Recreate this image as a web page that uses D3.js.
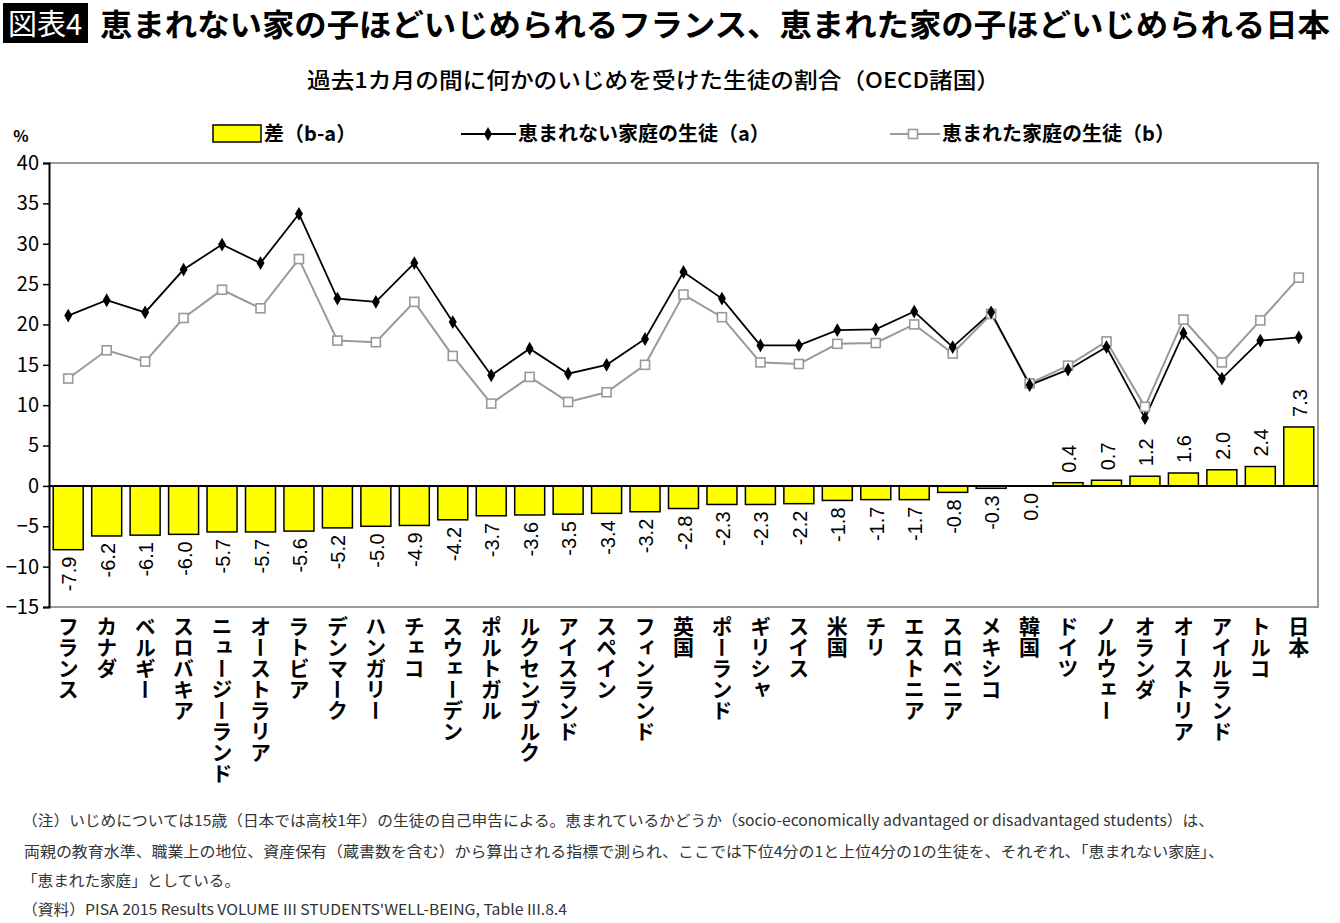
<!DOCTYPE html>
<html>
<head>
<meta charset="utf-8">
<script src="https://d3js.org/d3.v7.min.js"></script>
<style>
  body { margin: 0; background: #fff; }
  text { font-family: "Noto Sans CJK JP", "Noto Sans", sans-serif; }
</style>
</head>
<body>
<svg id="chart" width="1340" height="923"></svg>
<script>
// 国名
var countries = ["フランス","カナダ","ベルギー","スロバキア","ニュージーランド","オーストラリア","ラトビア",
  "デンマーク","ハンガリー","チェコ","スウェーデン","ポルトガル","ルクセンブルク","アイスランド","スペイン",
  "フィンランド","英国","ポーランド","ギリシャ","スイス","米国","チリ","エストニア","スロベニア","メキシコ",
  "韓国","ドイツ","ノルウェー","オランダ","オーストリア","アイルランド","トルコ","日本"];
// 恵まれない家庭の生徒 (a)
var seriesA = [21.1,23.0,21.5,26.8,29.9,27.6,33.7,23.2,22.8,27.6,20.3,13.7,17.0,13.9,15.0,
  18.2,26.5,23.2,17.4,17.4,19.3,19.4,21.6,17.2,21.5,12.5,14.4,17.2,8.4,18.9,13.3,18.0,18.4];
// 恵まれた家庭の生徒 (b)
var seriesB = [13.3,16.8,15.4,20.8,24.3,22.0,28.1,18.0,17.8,22.8,16.1,10.2,13.5,10.4,11.6,
  15.0,23.7,20.9,15.3,15.1,17.6,17.7,20.0,16.4,21.3,12.7,14.9,17.9,9.8,20.6,15.3,20.5,25.8];
// 差 (b-a)
var diffs = [-7.9,-6.2,-6.1,-6.0,-5.7,-5.7,-5.6,-5.2,-5.0,-4.9,-4.2,-3.7,-3.6,-3.5,-3.4,
  -3.2,-2.8,-2.3,-2.3,-2.2,-1.8,-1.7,-1.7,-0.8,-0.3,0.0,0.4,0.7,1.2,1.6,2.0,2.4,7.3];
var yTicks = [-15,-10,-5,0,5,10,15,20,25,30,35,40];

var notes = [
  "（注）いじめについては15歳（日本では高校1年）の生徒の自己申告による。恵まれているかどうか（socio-economically advantaged or disadvantaged students）は、",
  "両親の教育水準、職業上の地位、資産保有（蔵書数を含む）から算出される指標で測られ、ここでは下位4分の1と上位4分の1の生徒を、それぞれ、「恵まれない家庭」、",
  "「恵まれた家庭」としている。",
  "（資料）PISA 2015 Results VOLUME III STUDENTS'WELL-BEING, Table III.8.4"
];

var svg = d3.select("#chart");
var pLeft = 49, pRight = 1318, pTop = 163, pBottom = 607;

var x = d3.scaleBand().domain(countries).range([pLeft, pRight])
  .paddingInner(0.22).paddingOuter(0.11);
var y = d3.scaleLinear().domain([-15, 40]).range([pBottom, pTop]);

// title
svg.append("rect").attr("x", 3).attr("y", 3).attr("width", 85).attr("height", 40).attr("fill", "#000");
svg.append("text").attr("x", 45).attr("y", 35).attr("text-anchor", "middle")
  .attr("fill", "#fff").attr("font-size", 29).text("図表4");
svg.append("text").attr("x", 100).attr("y", 36).attr("font-size", 31).attr("font-weight", "bold")
  .attr("textLength", 1230).attr("lengthAdjust", "spacingAndGlyphs")
  .text("恵まれない家の子ほどいじめられるフランス、恵まれた家の子ほどいじめられる日本");
svg.append("text").attr("x", 307).attr("y", 88)
  .attr("font-size", 22).attr("font-weight", 500)
  .attr("textLength", 693).attr("lengthAdjust", "spacingAndGlyphs")
  .text("過去1カ月の間に何かのいじめを受けた生徒の割合（OECD諸国）");

// frame
svg.append("path")
  .attr("d", "M" + pLeft + "," + pTop + "H" + pRight + "V" + pBottom + "H" + pLeft)
  .attr("fill", "none").attr("stroke", "#999").attr("stroke-width", 2);

// bars
svg.selectAll(".bar").data(diffs).enter().append("rect")
  .attr("class", "bar")
  .attr("x", function(d, i) { return x(countries[i]); })
  .attr("width", x.bandwidth())
  .attr("y", function(d) { return y(Math.max(0, d)); })
  .attr("height", function(d) { return Math.abs(y(d) - y(0)); })
  .attr("fill", "#ffff00").attr("stroke", "#000").attr("stroke-width", 1.5);

// bar labels
svg.selectAll(".blab").data(diffs).enter().append("text")
  .attr("class", "blab")
  .attr("transform", function(d, i) {
    var cx = x(countries[i]) + x.bandwidth() / 2 + 8;
    var yy = d > 0 ? y(d) - 10 : y(d) + 7;
    return "translate(" + cx + "," + yy + ") rotate(-90)";
  })
  .attr("text-anchor", function(d) { return d > 0 ? "start" : "end"; })
  .style("font-family", "'Liberation Sans', Arial, sans-serif")
  .attr("font-size", 20)
  .text(function(d) { return d.toFixed(1); });

// zero line
svg.append("line").attr("x1", pLeft).attr("x2", pRight).attr("y1", y(0)).attr("y2", y(0))
  .attr("stroke", "#000").attr("stroke-width", 2);

// y axis
var yAxis = svg.append("g").attr("transform", "translate(" + pLeft + ",0)")
  .call(d3.axisLeft(y).tickValues(yTicks).tickSize(6).tickPadding(4));
yAxis.select(".domain").attr("stroke", "#000").attr("stroke-width", 2);
yAxis.selectAll(".tick line").attr("stroke", "#000").attr("stroke-width", 1.5);
yAxis.selectAll(".tick text").attr("font-size", 20).attr("fill", "#000")
  .style("font-family", "'Noto Sans CJK JP', sans-serif");
svg.append("text").attr("x", 21).attr("y", 142).attr("text-anchor", "middle")
  .attr("font-size", 16).attr("font-weight", "bold").text("%");

// lines
var cx = function(i) { return x(countries[i]) + x.bandwidth() / 2; };
var lineGen = d3.line().x(function(d, i) { return cx(i); }).y(function(d) { return y(d); });

svg.append("path").datum(seriesB).attr("d", lineGen)
  .attr("fill", "none").attr("stroke", "#999").attr("stroke-width", 2);
svg.append("path").datum(seriesA).attr("d", lineGen)
  .attr("fill", "none").attr("stroke", "#000").attr("stroke-width", 1.8);

svg.selectAll(".mb").data(seriesB).enter().append("rect")
  .attr("class", "mb")
  .attr("x", function(d, i) { return cx(i) - 4.5; })
  .attr("y", function(d) { return y(d) - 4.5; })
  .attr("width", 9).attr("height", 9)
  .attr("fill", "#fff").attr("stroke", "#999").attr("stroke-width", 1.6);

var diamond = d3.symbol().type(d3.symbolDiamond).size(55);
svg.selectAll(".ma").data(seriesA).enter().append("path")
  .attr("class", "ma")
  .attr("transform", function(d, i) { return "translate(" + cx(i) + "," + y(d) + ")"; })
  .attr("d", diamond).attr("fill", "#000");

// x labels (vertical)
svg.selectAll(".xlab").data(countries).enter().append("text")
  .attr("class", "xlab")
  .attr("x", function(d) { return x(d) + x.bandwidth() / 2; })
  .attr("y", 616)
  .style("writing-mode", "vertical-rl")
  .style("text-orientation", "upright")
  .attr("font-size", 21).attr("font-weight", "bold")
  .text(function(d) { return d; });

// legend
var lg = svg.append("g");
lg.append("rect").attr("x", 213).attr("y", 125).attr("width", 48).attr("height", 17)
  .attr("fill", "#ffff00").attr("stroke", "#000").attr("stroke-width", 1.5);
lg.append("text").attr("x", 264).attr("y", 141).attr("font-size", 20).attr("font-weight", "bold")
  .text("差（b-a）");
lg.append("line").attr("x1", 461).attr("x2", 516).attr("y1", 134).attr("y2", 134)
  .attr("stroke", "#000").attr("stroke-width", 1.8);
lg.append("path").attr("transform", "translate(488,134)").attr("d", diamond).attr("fill", "#000");
lg.append("text").attr("x", 518).attr("y", 141).attr("font-size", 20).attr("font-weight", "bold")
  .text("恵まれない家庭の生徒（a）");
lg.append("line").attr("x1", 890).attr("x2", 940).attr("y1", 134).attr("y2", 134)
  .attr("stroke", "#999").attr("stroke-width", 2);
lg.append("rect").attr("x", 908.5).attr("y", 129.5).attr("width", 9).attr("height", 9)
  .attr("fill", "#fff").attr("stroke", "#999").attr("stroke-width", 1.6);
lg.append("text").attr("x", 942).attr("y", 141).attr("font-size", 20).attr("font-weight", "bold")
  .text("恵まれた家庭の生徒（b）");

// notes
var noteY = [826, 857, 886, 915];
var noteW = [1192, 1200, 218, 545];
svg.selectAll(".note").data(notes).enter().append("text")
  .attr("class", "note")
  .attr("x", function(d, i) { return i === 1 ? 24 : 22; })
  .attr("y", function(d, i) { return noteY[i]; })
  .attr("font-size", 15).attr("fill", "#333")
  .attr("textLength", function(d, i) { return noteW[i]; })
  .attr("lengthAdjust", "spacingAndGlyphs")
  .text(function(d) { return d; });
</script>
</body>
</html>
